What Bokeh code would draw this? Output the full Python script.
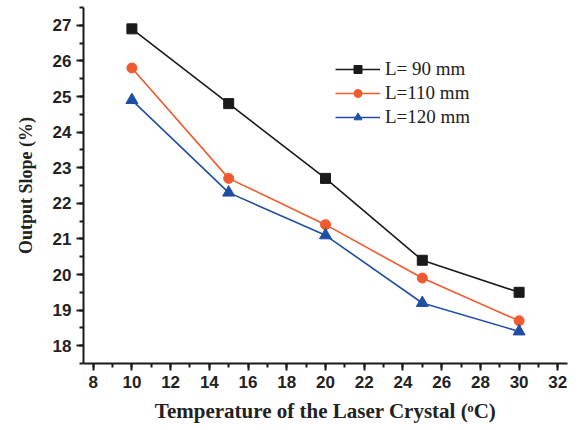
from bokeh.plotting import figure
from bokeh.embed import file_html
from bokeh.resources import INLINE
from bokeh.models import Range1d, SingleIntervalTicker

temperature = [10, 15, 20, 25, 30]
slope_90 = [26.9, 24.8, 22.7, 20.4, 19.5]
slope_110 = [25.8, 22.7, 21.4, 19.9, 18.7]
slope_120 = [24.9, 22.3, 21.1, 19.2, 18.4]
labels = ["L= 90 mm", "L=110 mm", "L=120 mm"]

p = figure(width=575, height=425, output_backend="svg", toolbar_location=None,
           x_range=Range1d(7.5, 32.5), y_range=Range1d(17.5, 27.5),
           min_border_left=83, min_border_right=8, min_border_top=7, min_border_bottom=60)

p.xgrid.visible = False
p.ygrid.visible = False
p.outline_line_color = None
p.background_fill_color = "white"

black = "#1a1a1a"
red = "#f15a2f"
blue = "#1f4fa3"

p.line(temperature, slope_90, color=black, line_width=1.6, legend_label=labels[0])
p.scatter(temperature, slope_90, marker="square", size=10, color=black, legend_label=labels[0])
p.line(temperature, slope_110, color=red, line_width=1.6, legend_label=labels[1])
p.scatter(temperature, slope_110, marker="circle", size=10, color=red, legend_label=labels[1])
p.line(temperature, slope_120, color=blue, line_width=1.6, legend_label=labels[2])
p.scatter(temperature, slope_120, marker="triangle", size=12, color=blue, legend_label=labels[2])

p.xaxis.ticker = SingleIntervalTicker(interval=2, num_minor_ticks=2)
p.yaxis.ticker = SingleIntervalTicker(interval=1, num_minor_ticks=2)

for ax in (p.xaxis, p.yaxis):
    ax.axis_line_width = 2
    ax.axis_line_color = black
    ax.major_tick_line_width = 2
    ax.minor_tick_line_width = 2
    ax.major_tick_line_color = black
    ax.minor_tick_line_color = black
    ax.major_tick_in = 0
    ax.major_tick_out = 7
    ax.minor_tick_in = 0
    ax.minor_tick_out = 4
    ax.major_label_text_font = "Liberation Sans"
    ax.major_label_text_font_style = "bold"
    ax.major_label_text_font_size = "17px"
    ax.major_label_text_color = "#222222"
    ax.axis_label_text_font = "Liberation Serif"
    ax.axis_label_text_font_style = "bold"
    ax.axis_label_text_color = "#222222"

p.xaxis.axis_label_text_font_size = "21px"
p.yaxis.axis_label_text_font_size = "18px"
p.xaxis.axis_label = "Temperature of the Laser Crystal (\u1d52C)"
p.yaxis.axis_label = "Output Slope (%)"
p.xaxis.axis_label_standoff = 8
p.yaxis.axis_label_standoff = 14

lg = p.legend[0]
lg.location = (252, 234)
lg.border_line_color = None
lg.background_fill_alpha = 0
lg.padding = 0
lg.margin = 0
lg.spacing = 0
lg.glyph_width = 45
lg.label_standoff = 5
lg.label_text_font = "Liberation Serif"
lg.label_text_font_size = "19px"
lg.label_text_color = "#222222"
lg.label_height = 24

open("out.html", "w").write(file_html(p, INLINE))
